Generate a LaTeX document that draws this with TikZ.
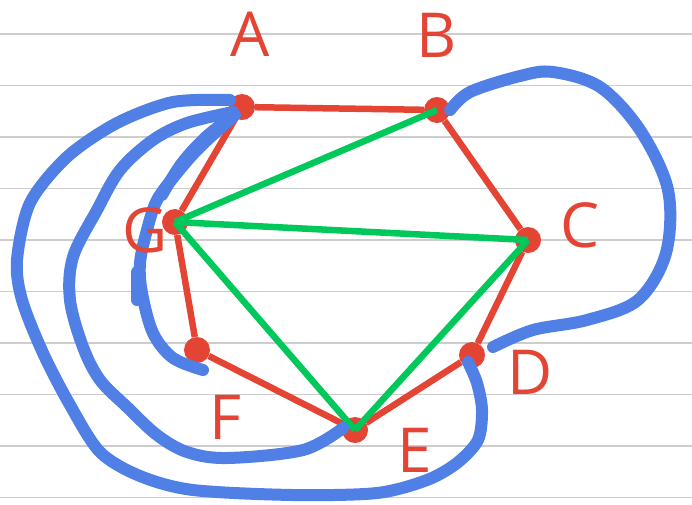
\documentclass[tikz,border=0pt]{standalone}
\usepackage{fontspec}
\setsansfont{Open Sans}
\definecolor{inkred}{RGB}{227,68,52}
\definecolor{inkblue}{RGB}{80,128,230}
\definecolor{inkgreen}{RGB}{0,200,90}
\definecolor{ruling}{RGB}{205,205,205}

\begin{document}
\begin{tikzpicture}[x=1pt,y=-1pt,
  vertex/.style={circle,fill=inkred,inner sep=0pt,minimum size=26pt},
  edge/.style={inkred,line width=6.5pt},
  chord/.style={inkgreen,line width=6.5pt},
  loop/.style={inkblue,line width=12pt,line cap=round,line join=round},
  letter/.style={text=inkred,font=\sffamily\fontsize{62}{62}\selectfont,inner sep=0pt}]

\useasboundingbox (0,0) rectangle (692,504);

% Ruled paper
\foreach \k in {0,...,9}
  \draw[ruling,line width=1.5pt] (0,34+51.5*\k) -- (692,34+51.5*\k);

% Vertices
\node[vertex] (A) at (242,107) {};
\node[vertex] (B) at (437,110) {};
\node[vertex] (C) at (528,240) {};
\node[vertex] (D) at (472,355) {};
\node[vertex] (E) at (355,430) {};
\node[vertex] (F) at (197,350) {};
\node[vertex] (G) at (175,222) {};

% Heptagon
\draw[edge] (A) -- (B);
\draw[edge] (B) -- (C);
\draw[edge] (C) -- (D);
\draw[edge] (D) -- (E);
\draw[edge] (E) -- (F);
\draw[edge] (F) -- (G);
\draw[edge] (G) -- (A);

% Diagonals
\draw[chord] (G.center) -- (B.center);
\draw[chord] (G.center) -- (C.center);
\draw[chord] (G.center) -- (E.center);
\draw[chord] (E.center) -- (C.center);

% Curve from B round to D
\draw[loop] plot[smooth,tension=0.55] coordinates {(B.east) (470,92) (520,76) (553,72)
  (600,87) (640,130) (668,190) (666,253) (638,300) (587,320) (533,330) (493,347)};

% Outer curve from D to A
\draw[loop] plot[smooth,tension=0.5] coordinates {(468,362) (477,383) (482,410) (478,440)
  (457,463) (427,480) (377,493) (293,495) (193,490) (140,476) (100,452) (70,405)
  (43,353) (22,300) (17,260) (30,203) (67,157) (117,123) (173,102) (230,100)};

% Middle curve from E to A
\draw[loop] plot[smooth,tension=0.55] coordinates {(343,428) (303,450) (227,458) (187,452)
  (157,435) (127,407) (100,380) (83,347) (70,300) (73,257) (97,210) (120,170)
  (153,140) (187,123) (233,112)};

% Inner curve from F to A
\draw[loop] plot[smooth,tension=0.55] coordinates {(203,370) (173,358) (153,333) (142,293)
  (140,263) (147,230) (157,200) (177,173) (200,147) (235,115)};
\draw[loop] (137,300) -- (137,272);
\draw[loop] plot[smooth,tension=0.55] coordinates {(162,195) (182,163) (207,136) (232,117)};

% Letters
\node[letter] (labA) at (250,34) {A};
\node[letter] (labB) at (437,35) {B};
\node[letter] (labC) at (580,225) {C};
\node[letter] (labD) at (530,372) {D};
\node[letter] (labE) at (415,450) {E};
\node[letter] (labF) at (225,417) {F};
\node[letter] (labG) at (145,230) {G};

\end{tikzpicture}
\end{document}
